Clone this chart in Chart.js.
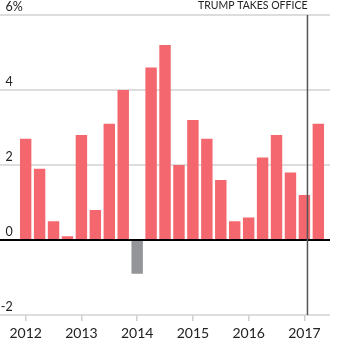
<!DOCTYPE html>
<html><head><meta charset="utf-8">
<script src="https://cdn.jsdelivr.net/npm/chart.js@4"></script>
<style>html,body{margin:0;padding:0;background:#fff}#wrap{width:349px;height:345px;position:relative}</style>
</head><body><div id="wrap"><canvas id="c"></canvas></div>
<script>
const quarters = ['2012Q1','2012Q2','2012Q3','2012Q4','2013Q1','2013Q2','2013Q3','2013Q4','2014Q1','2014Q2','2014Q3','2014Q4','2015Q1','2015Q2','2015Q3','2015Q4','2016Q1','2016Q2','2016Q3','2016Q4','2017Q1','2017Q2'];
const growth = [2.7,1.9,0.5,0.1,2.8,0.8,3.1,4.0,-0.9,4.6,5.2,2.0,3.2,2.7,1.6,0.5,0.6,2.2,2.8,1.8,1.2,3.1];
const yTicks = [-2,0,2,4,6];
const eventLabel = 'TRUMP TAKES OFFICE';
const eventIndex = 20;      // 2017 Q1
const eventFraction = 0.22; // Jan 20 within the quarter

const FONT = 'Lato, "Open Sans", sans-serif';

const overlay = {
  id: 'overlay',
  beforeDatasetsDraw(chart) {
    const {ctx} = chart; const y = chart.scales.y;
    ctx.save();
    ctx.strokeStyle = '#d2d2d2'; ctx.lineWidth = 1.5;
    yTicks.forEach(v => { if (v === 0) return; const p = y.getPixelForValue(v);
      ctx.beginPath(); ctx.moveTo(0, p); ctx.lineTo(330, p); ctx.stroke(); });
    ctx.fillStyle = '#222'; ctx.font = '12.5px ' + FONT; ctx.textBaseline = 'middle'; ctx.textAlign = 'left';
    yTicks.forEach(v => { const p = y.getPixelForValue(v) - 8;
      const t = (v === 6 ? v + '%' : String(v));
      let x = 5.5; if (v < 0) x -= ctx.measureText('-').width;
      ctx.fillText(t, x, p); });
    ctx.restore();
  },
  afterDatasetsDraw(chart) {
    const {ctx} = chart; const y = chart.scales.y; const x = chart.scales.x;
    ctx.save();
    const z = y.getPixelForValue(0);
    ctx.strokeStyle = '#000'; ctx.lineWidth = 2;
    ctx.beginPath(); ctx.moveTo(0, z); ctx.lineTo(330, z); ctx.stroke();
    const x0 = x.getPixelForValue(eventIndex), x1 = x.getPixelForValue(eventIndex + 1);
    const ex = x0 + eventFraction * (x1 - x0);
    ctx.strokeStyle = '#555'; ctx.lineWidth = 1.5;
    ctx.beginPath(); ctx.moveTo(ex, y.getPixelForValue(6)); ctx.lineTo(ex, y.getPixelForValue(-2)); ctx.stroke();
    ctx.fillStyle = '#222'; ctx.font = '10.5px ' + FONT; ctx.textAlign = 'right'; ctx.textBaseline = 'middle';
    ctx.fillText(eventLabel, ex, 5.5);
    ctx.restore();
  }
};

new Chart(document.getElementById('c'), {
  type: 'bar',
  data: { labels: quarters, datasets: [{
    data: growth,
    backgroundColor: growth.map(v => v < 0 ? '#939598' : '#f4676f'),
    barPercentage: 0.82, categoryPercentage: 1.0
  }]},
  options: {
    responsive: true, maintainAspectRatio: false, animation: false,
    layout: { padding: { top: 15, left: 18.7, right: 23.7, bottom: 0 } },
    plugins: { legend: { display: false }, tooltip: { enabled: false } },
    scales: {
      y: { display: false, min: -2, max: 6, ticks: { stepSize: 2 } },
      x: {
        offset: true,
        afterFit(s) { s.height = 30; },
        border: { display: false },
        grid: { offset: false, drawOnChartArea: false, drawTicks: true, tickLength: 6, lineWidth: 1.5,
          color: c => (c.index % 4 === 0 ? '#cfcfcf' : 'rgba(0,0,0,0)') },
        ticks: { autoSkip: false, maxRotation: 0, padding: 4, color: '#222', font: { family: FONT, size: 14 },
          callback: (v, i) => (i % 4 === 0 ? quarters[i].slice(0, 4) : '') }
      }
    }
  },
  plugins: [overlay]
});
</script></body></html>
